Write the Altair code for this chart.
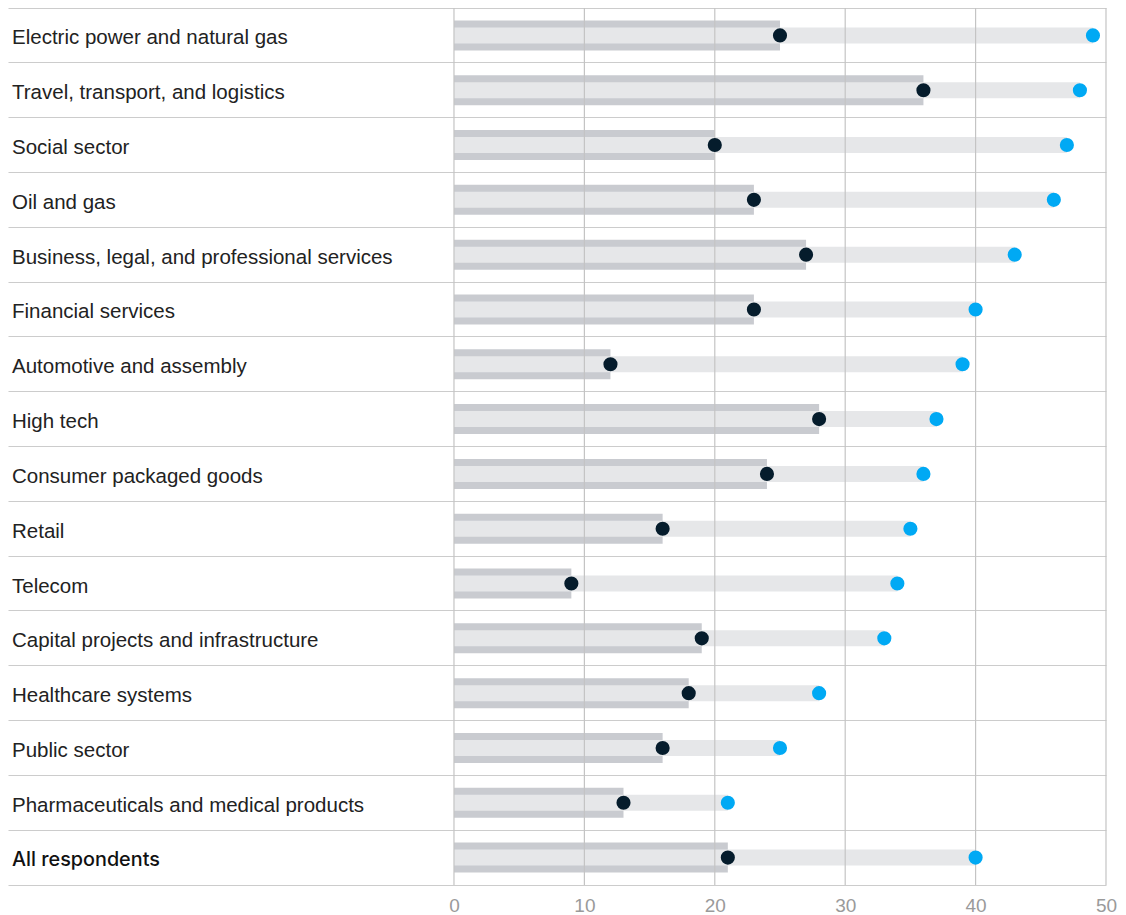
import altair as alt
import pandas as pd

categories = [
    "Electric power and natural gas",
    "Travel, transport, and logistics",
    "Social sector",
    "Oil and gas",
    "Business, legal, and professional services",
    "Financial services",
    "Automotive and assembly",
    "High tech",
    "Consumer packaged goods",
    "Retail",
    "Telecom",
    "Capital projects and infrastructure",
    "Healthcare systems",
    "Public sector",
    "Pharmaceuticals and medical products",
    "All respondents",
]
dark_values = [25, 36, 20, 23, 27, 23, 12, 28, 24, 16, 9, 19, 18, 16, 13, 21]
blue_values = [49, 48, 47, 46, 43, 40, 39, 37, 36, 35, 34, 33, 28, 25, 21, 40]
tick_values = [0, 10, 20, 30, 40, 50]

df = pd.DataFrame({
    "category": categories,
    "dark": dark_values,
    "blue": blue_values,
    "zero": [0] * len(categories),
})
df_ticks = pd.DataFrame({"t": tick_values})

FONT = "Liberation Sans"

xscale = alt.Scale(domain=[-34.2, 50], nice=False, zero=False)
yscale = alt.Scale(domain=categories, paddingInner=0, paddingOuter=0)

y_enc = alt.Y(
    "category:N",
    scale=yscale,
    sort=categories,
    axis=alt.Axis(
        labels=False, ticks=False, domain=False, title=None,
        grid=True, bandPosition=0, gridColor="#cccccc", gridWidth=1.2,
    ),
)

x_axis = alt.Axis(
    values=tick_values, title=None, grid=False, ticks=False,
    domain=True, domainColor="#cccccc", domainWidth=1.2,
    labelFont=FONT, labelFontSize=19, labelColor="#9a9a9a",
    labelPadding=11, labelBaseline="top", labelFlush=False,
)

base = alt.Chart(df)
y_plain = alt.Y("category:N", scale=yscale, sort=categories)

dark_bar = base.mark_bar(color="#c9cbd0", size=30).encode(
    x=alt.X("zero:Q", scale=xscale, axis=x_axis),
    x2="dark:Q",
    y=y_enc,
)
light_bar = base.mark_bar(color="#e6e7e9", size=16).encode(
    x=alt.X("zero:Q", scale=xscale),
    x2="blue:Q",
    y=y_plain,
)
grid = alt.Chart(df_ticks).mark_rule(color="#c4c4c4", strokeWidth=1.2).encode(
    x=alt.X("t:Q", scale=xscale)
)
dark_dot = base.mark_circle(color="#051c2c", size=200, opacity=1).encode(
    x=alt.X("dark:Q", scale=xscale),
    y=y_plain,
)
blue_dot = base.mark_circle(color="#00a9f4", size=200, opacity=1).encode(
    x=alt.X("blue:Q", scale=xscale),
    y=y_plain,
)
labels = base.transform_filter(alt.datum.category != "All respondents").mark_text(
    align="left", baseline="middle", font=FONT, fontSize=20.5, color="#222222", dy=3
).encode(
    x=alt.value(4),
    y=y_plain,
    text="category:N",
)
labels_bold = base.transform_filter(alt.datum.category == "All respondents").mark_text(
    align="left", baseline="middle", font="Inter", fontSize=19.8, fontWeight=500, color="#111111", dy=2
).encode(
    x=alt.value(4),
    y=y_plain,
    text="category:N",
)

chart = alt.layer(
    dark_bar, light_bar, grid, dark_dot, blue_dot, labels, labels_bold
).properties(
    width=1098, height=877,
    background="white",
    autosize=alt.AutoSizeParams(type="none"),
    padding={"left": 8, "top": 8, "right": 20, "bottom": 30},
).configure_view(
    stroke="transparent", strokeWidth=0
).configure_axisX(grid=False)

chart.save("out.html", embed_options={"renderer": "svg", "actions": False})
